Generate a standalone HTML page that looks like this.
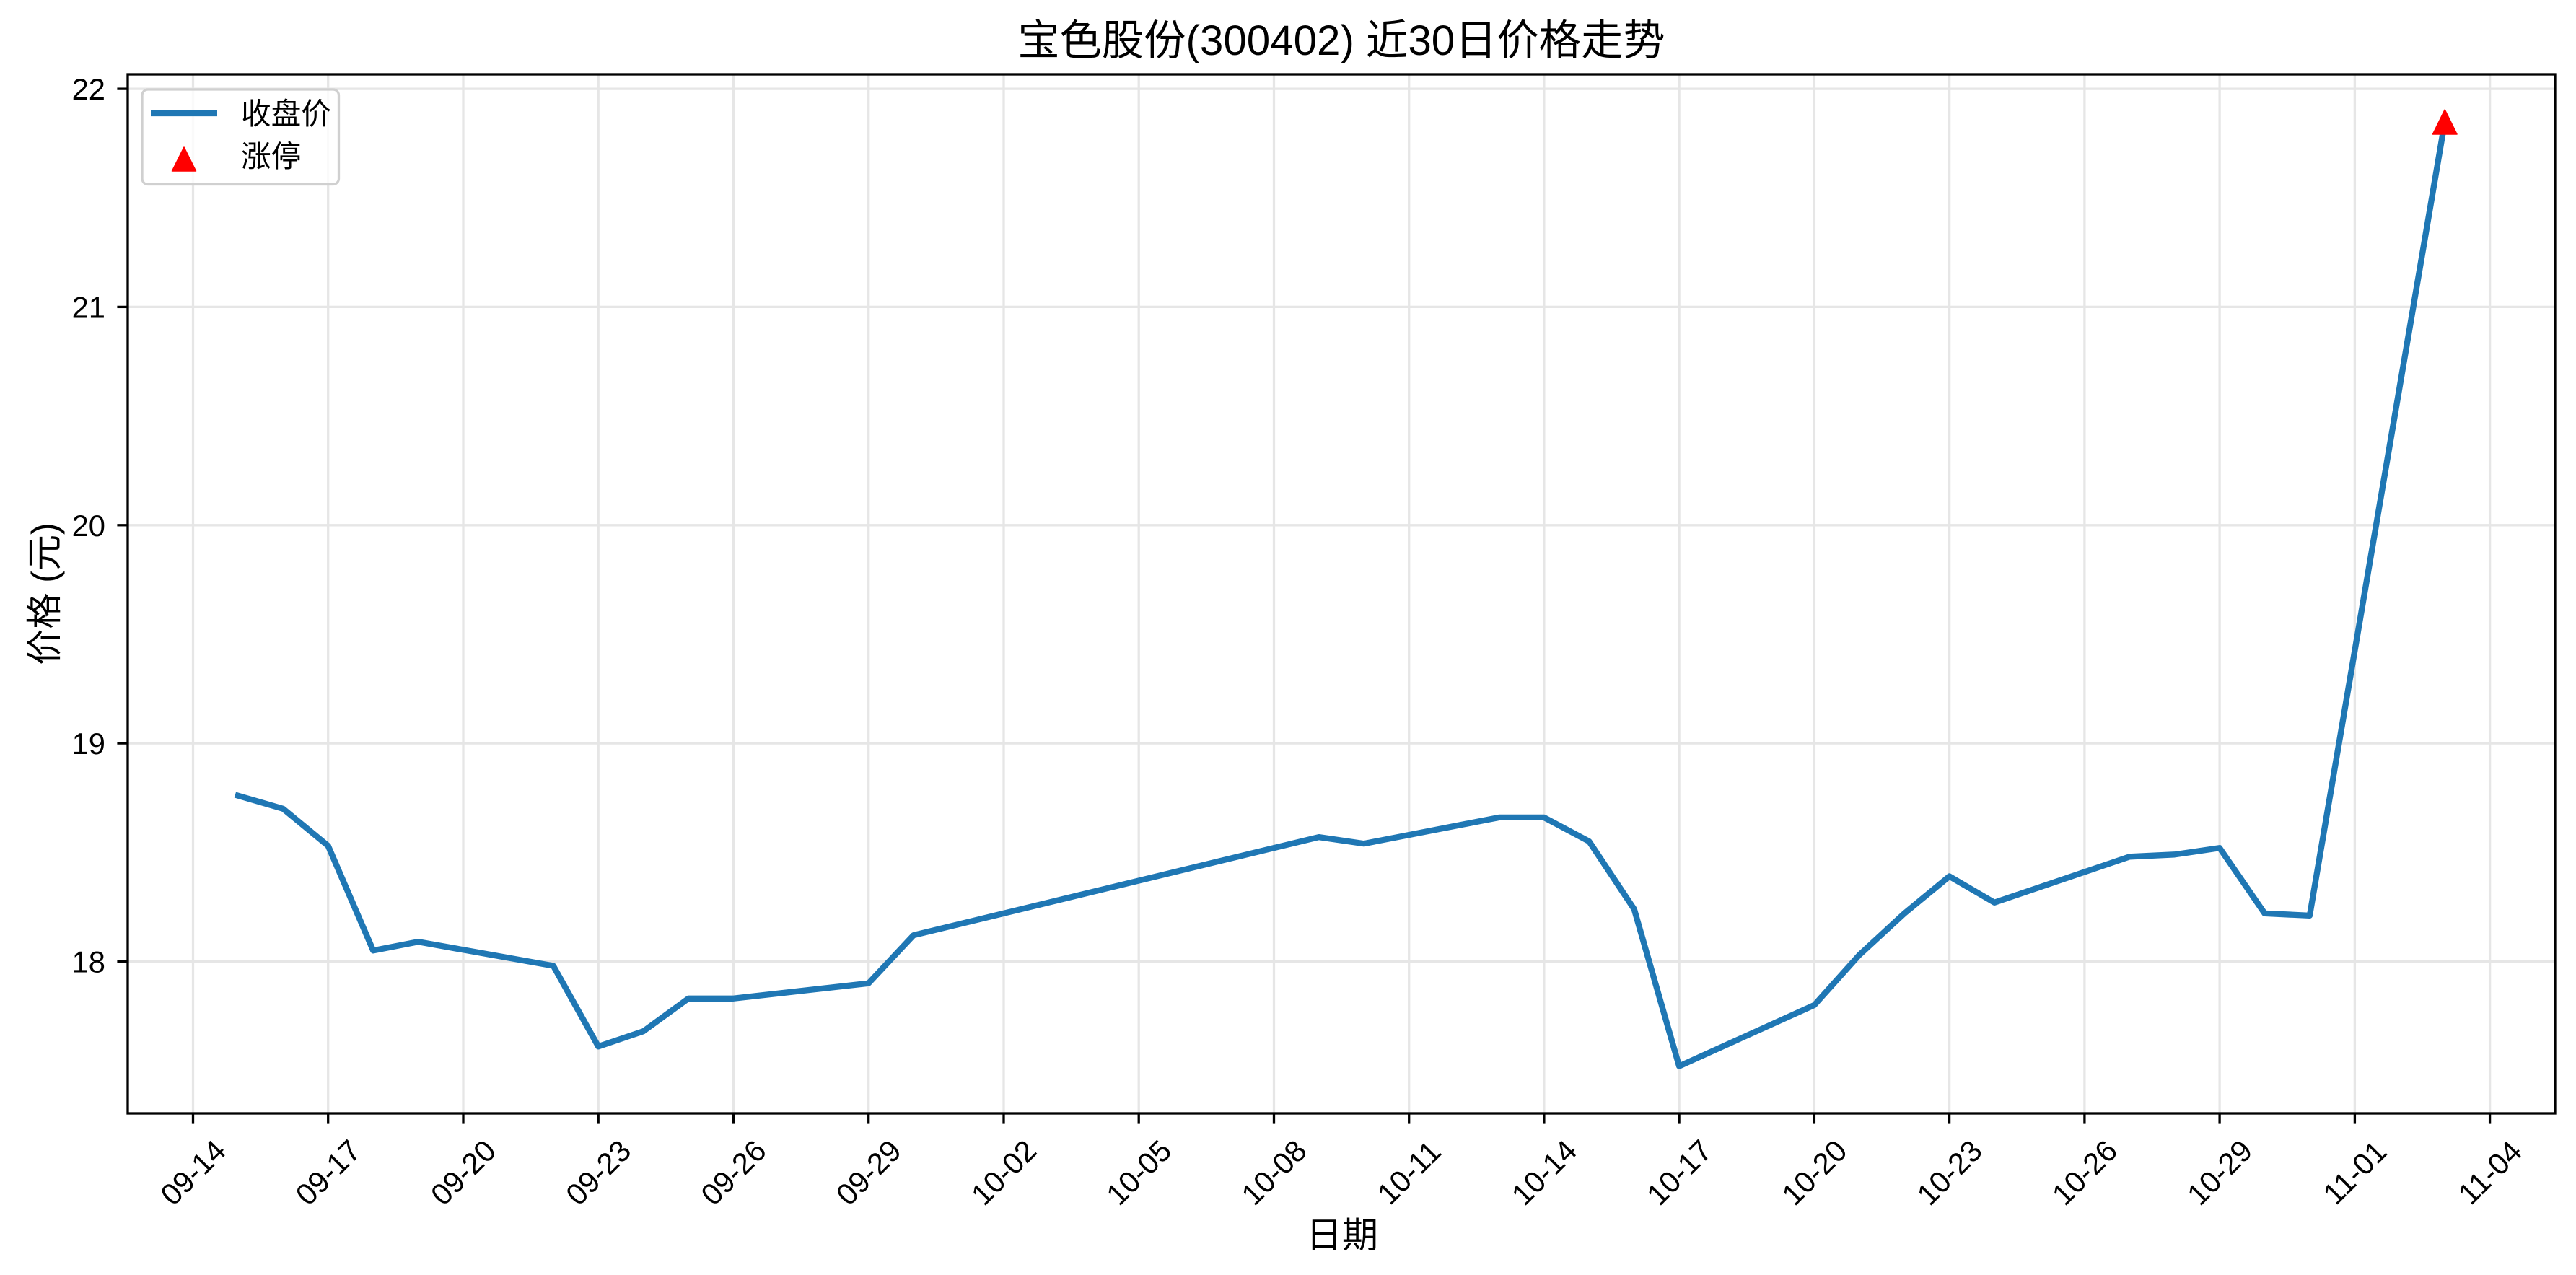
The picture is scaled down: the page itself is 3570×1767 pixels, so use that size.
<!DOCTYPE html>
<html>
<head>
<meta charset="utf-8">
<style>
html,body{margin:0;padding:0;background:#fff;}
svg{display:block;}
text{font-family:"Liberation Sans","Noto Sans CJK SC",sans-serif;fill:#000;}
</style>
</head>
<body>
<svg width="3570" height="1767" viewBox="0 0 3570 1767" xmlns="http://www.w3.org/2000/svg">
<rect x="0" y="0" width="3570" height="1767" fill="#fff"/>
<!-- grid -->
<g stroke="#e6e6e6" stroke-width="3.3">
<line x1="267.5" y1="103" x2="267.5" y2="1543"/>
<line x1="454.7" y1="103" x2="454.7" y2="1543"/>
<line x1="642.0" y1="103" x2="642.0" y2="1543"/>
<line x1="829.2" y1="103" x2="829.2" y2="1543"/>
<line x1="1016.5" y1="103" x2="1016.5" y2="1543"/>
<line x1="1203.7" y1="103" x2="1203.7" y2="1543"/>
<line x1="1391.0" y1="103" x2="1391.0" y2="1543"/>
<line x1="1578.2" y1="103" x2="1578.2" y2="1543"/>
<line x1="1765.5" y1="103" x2="1765.5" y2="1543"/>
<line x1="1952.7" y1="103" x2="1952.7" y2="1543"/>
<line x1="2139.9" y1="103" x2="2139.9" y2="1543"/>
<line x1="2327.1" y1="103" x2="2327.1" y2="1543"/>
<line x1="2514.4" y1="103" x2="2514.4" y2="1543"/>
<line x1="2701.6" y1="103" x2="2701.6" y2="1543"/>
<line x1="2888.9" y1="103" x2="2888.9" y2="1543"/>
<line x1="3076.1" y1="103" x2="3076.1" y2="1543"/>
<line x1="3263.4" y1="103" x2="3263.4" y2="1543"/>
<line x1="3450.6" y1="103" x2="3450.6" y2="1543"/>
<line x1="177" y1="1332.4" x2="3541" y2="1332.4"/>
<line x1="177" y1="1030.1" x2="3541" y2="1030.1"/>
<line x1="177" y1="727.8" x2="3541" y2="727.8"/>
<line x1="177" y1="425.4" x2="3541" y2="425.4"/>
<line x1="177" y1="123.1" x2="3541" y2="123.1"/>
</g>
<!-- data line -->
<polyline fill="none" stroke="#1f77b4" stroke-width="8.3" stroke-linejoin="round" stroke-linecap="square"
points="329.9,1102.7 392.3,1120.8 454.7,1172.2 517.2,1317.3 579.6,1305.2 766.8,1338.5 829.2,1450.3 891.6,1429.2 954.0,1383.8 1016.5,1383.8 1203.7,1362.7 1266.1,1296.1 1827.8,1160.1 1890.2,1169.2 2077.5,1132.9 2139.9,1132.9 2202.3,1166.1 2264.7,1259.9 2327.1,1477.6 2514.4,1392.9 2576.8,1323.4 2639.2,1265.9 2701.6,1214.5 2764.0,1250.8 2951.3,1187.3 3013.7,1184.3 3076.1,1175.2 3138.5,1265.9 3200.9,1268.9 3388.2,168.5"/>
<!-- limit-up marker -->
<polygon points="3388.2,152 3371.5,186 3405,186" fill="#ff0000" stroke="#ff0000" stroke-width="1.5" stroke-linejoin="round"/>
<!-- spines -->
<rect x="177" y="103" width="3364" height="1440" fill="none" stroke="#000" stroke-width="3.3"/>
<!-- ticks -->
<g stroke="#000" stroke-width="3.3">
<line x1="267.5" y1="1543" x2="267.5" y2="1557.6"/>
<line x1="454.7" y1="1543" x2="454.7" y2="1557.6"/>
<line x1="642.0" y1="1543" x2="642.0" y2="1557.6"/>
<line x1="829.2" y1="1543" x2="829.2" y2="1557.6"/>
<line x1="1016.5" y1="1543" x2="1016.5" y2="1557.6"/>
<line x1="1203.7" y1="1543" x2="1203.7" y2="1557.6"/>
<line x1="1391.0" y1="1543" x2="1391.0" y2="1557.6"/>
<line x1="1578.2" y1="1543" x2="1578.2" y2="1557.6"/>
<line x1="1765.5" y1="1543" x2="1765.5" y2="1557.6"/>
<line x1="1952.7" y1="1543" x2="1952.7" y2="1557.6"/>
<line x1="2139.9" y1="1543" x2="2139.9" y2="1557.6"/>
<line x1="2327.1" y1="1543" x2="2327.1" y2="1557.6"/>
<line x1="2514.4" y1="1543" x2="2514.4" y2="1557.6"/>
<line x1="2701.6" y1="1543" x2="2701.6" y2="1557.6"/>
<line x1="2888.9" y1="1543" x2="2888.9" y2="1557.6"/>
<line x1="3076.1" y1="1543" x2="3076.1" y2="1557.6"/>
<line x1="3263.4" y1="1543" x2="3263.4" y2="1557.6"/>
<line x1="3450.6" y1="1543" x2="3450.6" y2="1557.6"/>
<line x1="162.4" y1="1332.4" x2="177" y2="1332.4"/>
<line x1="162.4" y1="1030.1" x2="177" y2="1030.1"/>
<line x1="162.4" y1="727.8" x2="177" y2="727.8"/>
<line x1="162.4" y1="425.4" x2="177" y2="425.4"/>
<line x1="162.4" y1="123.1" x2="177" y2="123.1"/>
</g>
<!-- y tick labels -->
<g font-size="41.7" text-anchor="end">
<text x="146" y="1347.4">18</text>
<text x="146" y="1045.1">19</text>
<text x="146" y="742.8">20</text>
<text x="146" y="440.4">21</text>
<text x="146" y="138.1">22</text>
</g>
<!-- x tick labels -->
<g font-size="41.7" text-anchor="middle">
<text transform="translate(267.5,1625) rotate(-45)" x="0" y="14.4">09-14</text>
<text transform="translate(454.7,1625) rotate(-45)" x="0" y="14.4">09-17</text>
<text transform="translate(642.0,1625) rotate(-45)" x="0" y="14.4">09-20</text>
<text transform="translate(829.2,1625) rotate(-45)" x="0" y="14.4">09-23</text>
<text transform="translate(1016.5,1625) rotate(-45)" x="0" y="14.4">09-26</text>
<text transform="translate(1203.7,1625) rotate(-45)" x="0" y="14.4">09-29</text>
<text transform="translate(1391.0,1625) rotate(-45)" x="0" y="14.4">10-02</text>
<text transform="translate(1578.2,1625) rotate(-45)" x="0" y="14.4">10-05</text>
<text transform="translate(1765.5,1625) rotate(-45)" x="0" y="14.4">10-08</text>
<text transform="translate(1952.7,1625) rotate(-45)" x="0" y="14.4">10-11</text>
<text transform="translate(2139.9,1625) rotate(-45)" x="0" y="14.4">10-14</text>
<text transform="translate(2327.1,1625) rotate(-45)" x="0" y="14.4">10-17</text>
<text transform="translate(2514.4,1625) rotate(-45)" x="0" y="14.4">10-20</text>
<text transform="translate(2701.6,1625) rotate(-45)" x="0" y="14.4">10-23</text>
<text transform="translate(2888.9,1625) rotate(-45)" x="0" y="14.4">10-26</text>
<text transform="translate(3076.1,1625) rotate(-45)" x="0" y="14.4">10-29</text>
<text transform="translate(3263.4,1625) rotate(-45)" x="0" y="14.4">11-01</text>
<text transform="translate(3450.6,1625) rotate(-45)" x="0" y="14.4">11-04</text>
</g>
<!-- axis labels & title -->
<text x="1860" y="1729" font-size="50" text-anchor="middle">日期</text>
<text transform="translate(79,823) rotate(-90)" x="0" y="0" font-size="50" text-anchor="middle">价格 (元)</text>
<text x="1859" y="76" font-size="58.3" text-anchor="middle">宝色股份(300402) 近30日价格走势</text>
<!-- legend -->
<rect x="197" y="124" width="272.5" height="131.5" rx="8" ry="8" fill="#fff" fill-opacity="0.8" stroke="#d0d0d0" stroke-width="3.3"/>
<line x1="209" y1="157" x2="301" y2="157" stroke="#1f77b4" stroke-width="8.3" stroke-linecap="butt"/>
<polygon points="255,204 238.5,237 271.5,237" fill="#ff0000" stroke="#ff0000" stroke-width="1.5" stroke-linejoin="round"/>
<text x="334" y="172" font-size="41.7">收盘价</text>
<text x="334" y="231" font-size="41.7">涨停</text>
</svg>
</body>
</html>
